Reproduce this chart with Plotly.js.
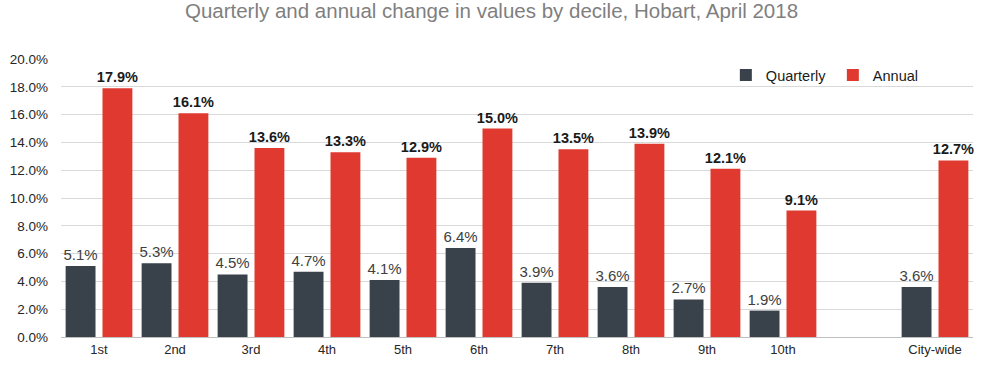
<!DOCTYPE html>
<html>
<head>
<meta charset="utf-8">
<script src="https://cdn.plot.ly/plotly-3.0.1.min.js"></script>
<style>html,body{margin:0;padding:0;background:#fff;}#chart{width:983px;height:366px;}</style>
</head>
<body>
<div id="chart"></div>
<script>
const categories = ["1st","2nd","3rd","4th","5th","6th","7th","8th","9th","10th"," ","City-wide"];
const quarterly = [5.1, 5.3, 4.5, 4.7, 4.1, 6.4, 3.9, 3.6, 2.7, 1.9, null, 3.6];
const annual = [17.9, 16.1, 13.6, 13.3, 12.9, 15.0, 13.5, 13.9, 12.1, 9.1, null, 12.7];
const yTicks = [0,2,4,6,8,10,12,14,16,18,20];

const font = "Liberation Sans, Arial, sans-serif";
const traces = [
  {type:"bar", name:"Quarterly", x:categories, y:quarterly,
   marker:{color:"#39414a"},
   texttemplate:"%{y:.1f}%", textposition:"outside", cliponaxis:false, constraintext:"none",
   textfont:{family:font, size:15, color:"#404040"}, hoverinfo:"x+y"},
  {type:"bar", name:"Annual", x:categories, y:annual,
   marker:{color:"#e0392f"},
   texttemplate:"<b>%{y:.1f}%</b>", textposition:"outside", cliponaxis:false, constraintext:"none",
   textfont:{family:font, size:14.5, color:"#1a1a1a"}, hoverinfo:"x+y"}
];
const layout = {
  width:983, height:366,
  margin:{l:61, r:10, t:59, b:29},
  paper_bgcolor:"#fff", plot_bgcolor:"#fff",
  font:{family:font, color:"#404040", size:13},
  title:{text:"Quarterly and annual change in values by decile, Hobart, April 2018",
         font:{family:font, size:20.5, color:"#7f7f7f"}, x:0.5, xanchor:"center", y:0.99, yanchor:"top"},
  barmode:"group", bargap:0.03, bargroupgap:0.19,
  showlegend:true,
  legend:{orientation:"h", x:0.729, xanchor:"left", y:1.0, yanchor:"top",
          font:{family:font, size:14.5, color:"#1a1a1a"}, bgcolor:"rgba(0,0,0,0)",
          itemwidth:30, entrywidth:62, entrywidthmode:"pixels", traceorder:"normal"},
  xaxis:{type:"category", categoryorder:"array", categoryarray:categories,
         showgrid:false, showline:true, linecolor:"#bfbfbf", linewidth:1, ticks:"",
         tickfont:{family:font, size:13, color:"#262626"}, fixedrange:true},
  yaxis:{range:[0,20], tickvals:yTicks, ticktext:yTicks.map(v=>v.toFixed(1)+"%"),
         showgrid:true, gridcolor:"#d9d9d9", gridwidth:1, zeroline:false, showline:false,
         ticks:"", ticklabelstandoff:12,
         tickfont:{family:font, size:13.5, color:"#262626"}, fixedrange:true}
};
Plotly.newPlot("chart", traces, layout, {displayModeBar:false, staticPlot:true});
</script>
</body>
</html>
